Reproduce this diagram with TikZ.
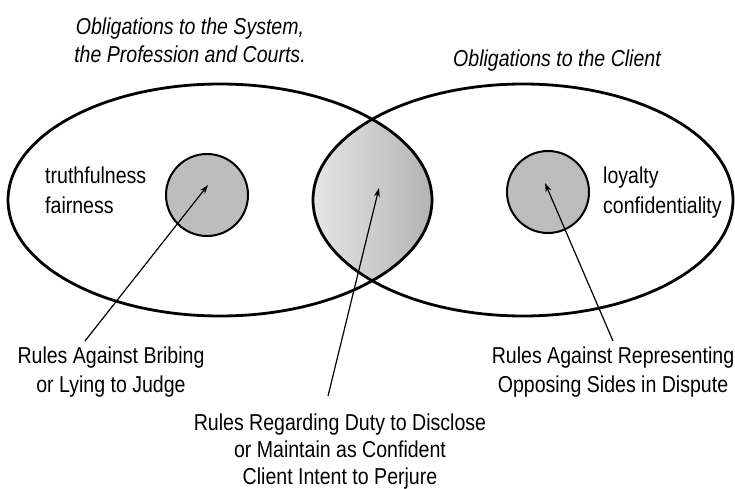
\documentclass[tikz,border=0pt]{standalone}
\usepackage{fontspec}
\setmainfont{Liberation Sans}[FakeStretch=0.85]
\usetikzlibrary{arrows.meta}
\begin{document}
\begin{tikzpicture}[x=1pt,y=-1pt,
  txt/.style={font=\fontsize{23}{29}\selectfont, inner sep=0pt, align=center, anchor=base},
  ltxt/.style={font=\fontsize{23}{29.5}\selectfont, inner sep=0pt, align=left, anchor=base west},
  ttl/.style={font=\fontsize{23}{28}\selectfont\itshape, inner sep=0pt, align=center, anchor=base},
  bigell/.style={line width=2.8pt},
  smallc/.style={draw, line width=2pt, fill=black!26, circle, minimum size=82pt, inner sep=0pt},
  ptr/.style={line width=1.2pt, -{Stealth[length=9pt,width=6pt]}}]
\useasboundingbox (0,0) rectangle (735,489);
% lens shading
\begin{scope}
  \clip (220,200) ellipse [x radius=212pt, y radius=116pt];
  \clip (523,200) ellipse [x radius=210pt, y radius=116pt];
  \fill[left color=black!10, right color=black!30] (313,82) rectangle (434,318);
\end{scope}
\draw[bigell] (220,200) ellipse [x radius=212pt, y radius=116pt];
\draw[bigell] (523,200) ellipse [x radius=210pt, y radius=116pt];
\node[smallc] (cl) at (207,195) {};
\node[smallc] (cr) at (548,192) {};
\node[ttl] (t1) at (190,63) {Obligations to the System,\\the Profession and Courts.};
\node[ttl] (t2) at (557,67) {Obligations to the Client};
\node[ltxt] (v1) at (45,213) {truthfulness\\fairness};
\node[ltxt] (v2) at (603,213) {loyalty\\confidentiality};
\node[txt] (r1) at (111,392) {Rules Against Bribing\\or Lying to Judge};
\node[txt] (r3) at (613,392) {Rules Against Representing\\Opposing Sides in Dispute};
\node[txt, font=\fontsize{23}{27}\selectfont] (r2) at (340,484) {Rules Regarding Duty to Disclose\\or Maintain as Confident\\Client Intent to Perjure};
\coordinate (a1) at (85,341);
\coordinate (b1) at (208,185);
\coordinate (a2) at (328,396);
\coordinate (b2) at (379,188);
\coordinate (a3) at (613,341);
\coordinate (b3) at (545,183);
\draw[ptr] (a1) -- (b1);
\draw[ptr] (a2) -- (b2);
\draw[ptr] (a3) -- (b3);
\end{tikzpicture}
\end{document}
